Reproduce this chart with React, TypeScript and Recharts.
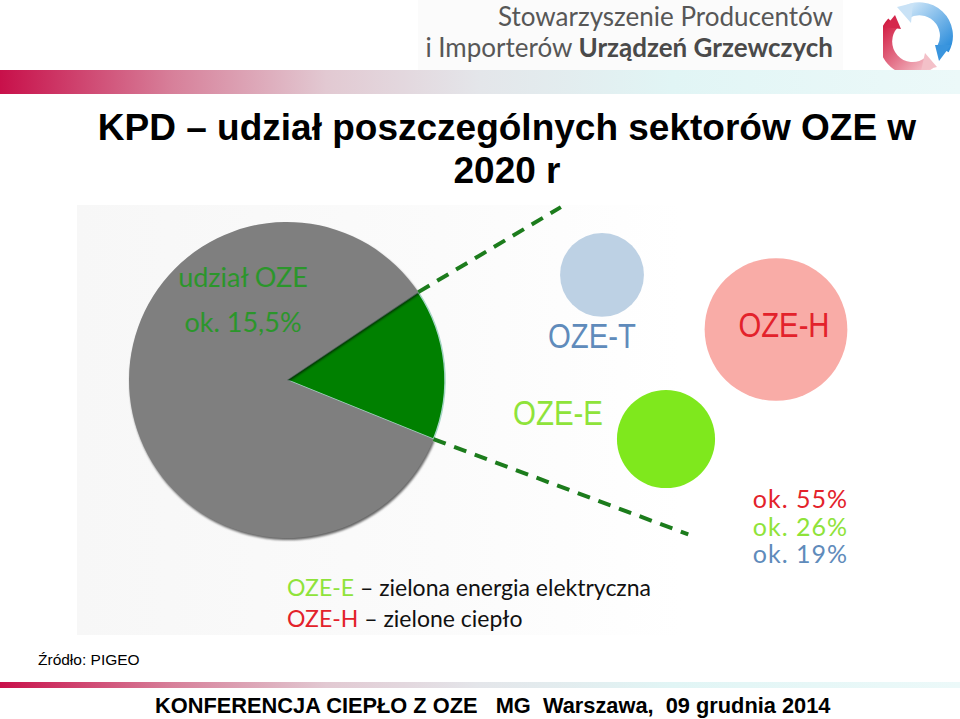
import { Cell, Pie, PieChart, Scatter, ScatterChart, XAxis, YAxis, ZAxis } from "recharts";

// share of renewables (OZE) in final energy, 2020 target
const PIE_NAMES = ["OZE", "pozostałe"];
const PIE_VALUES = [15.5, 84.5];

// split of the OZE share between sectors
const SECTOR_NAMES = ["OZE-H", "OZE-E", "OZE-T"];
const SECTOR_SHARES = [55, 26, 19];
// where each bubble sits on the hidden 0..100 grid
const BUBBLE_X = [69, 41.5, 25.5];
const BUBBLE_Y = [63, 31.7, 78.6];

const LEGEND_CODES = ["OZE-E", "OZE-H"];
const LEGEND_TEXTS = ["zielona energia elektryczna", "zielone ciepło"];

const PIE_COLORS = ["#008000", "#7f7f7f"];
const SECTOR_FILL: Record<string, string> = {
  "OZE-H": "#f9aca7",
  "OZE-E": "#7fe81d",
  "OZE-T": "#bdd1e4",
};
const SECTOR_TEXT: Record<string, string> = {
  "OZE-H": "#e3222b",
  "OZE-E": "#8fe33a",
  "OZE-T": "#5f8bbb",
};
// label placement relative to bubble centre: [dx, dy(baseline), width]
const SECTOR_LABEL: Record<string, [number, number, number]> = {
  "OZE-H": [8, 7, 91],
  "OZE-E": [-108, -14, 90],
  "OZE-T": [-10, 73, 88],
};

const RAD = Math.PI / 180;
const BAR_GRADIENT =
  "linear-gradient(90deg, #c8104a 0%, #d7809a 18%, #e2c9d2 34%, #e4e6ea 50%, #e1f5f5 70%, #ecf9f9 100%)";
const GOTHIC = "Lato, 'Open Sans', sans-serif";

const pieData = PIE_NAMES.map((name, i) => ({ name, value: PIE_VALUES[i] }));
const bubbleData = SECTOR_NAMES.map((name, i) => ({
  name,
  share: SECTOR_SHARES[i],
  x: BUBBLE_X[i],
  y: BUBBLE_Y[i],
}));

function polar(cx: number, cy: number, r: number, deg: number) {
  return { x: cx + r * Math.cos(deg * RAD), y: cy - r * Math.sin(deg * RAD) };
}

// dashed "zoom" lines leaving the OZE slice
function SliceLinks(props: any) {
  if (props.index !== 0) return null;
  const { cx, cy, outerRadius, startAngle, endAngle } = props;
  const top = polar(cx, cy, outerRadius, endAngle);
  const bot = polar(cx, cy, outerRadius, startAngle);
  const topEnd = { x: top.x + 166 * Math.cos((endAngle - 3) * RAD), y: top.y - 166 * Math.sin((endAngle - 3) * RAD) };
  const botEnd = { x: bot.x + 272 * Math.cos((startAngle + 1.5) * RAD), y: bot.y - 272 * Math.sin((startAngle + 1.5) * RAD) };
  return (
    <g>
      <line x1={top.x} y1={top.y} x2={topEnd.x} y2={topEnd.y} stroke="#1c7c1c" strokeWidth={4} strokeDasharray="13 9" />
      <line x1={bot.x} y1={bot.y} x2={botEnd.x} y2={botEnd.y} stroke="#1c7c1c" strokeWidth={4} strokeDasharray="13 9" />
    </g>
  );
}

function Bubble(props: any) {
  const { cx, cy, size, payload } = props;
  const r = Math.sqrt(Math.max(size, 0) / Math.PI);
  const [dx, dy, w] = SECTOR_LABEL[payload.name];
  return (
    <g>
      <circle cx={cx} cy={cy} r={r} fill={SECTOR_FILL[payload.name]} />
      <text
        x={cx + dx}
        y={cy + dy}
        textAnchor="middle"
        fontSize={35}
        fontFamily="'Liberation Sans', Arial, sans-serif"
        fill={SECTOR_TEXT[payload.name]}
        textLength={w}
        lengthAdjust="spacingAndGlyphs"
      >
        {payload.name}
      </text>
    </g>
  );
}

function Logo() {
  return (
    <svg width={70} height={72} style={{ position: "absolute", left: 883, top: 1 }}>
      <defs>
        <linearGradient id="lgBlue" x1="0" y1="0" x2="1" y2="1">
          <stop offset="0%" stopColor="#cfe6f8" />
          <stop offset="100%" stopColor="#2f8fdc" />
        </linearGradient>
        <linearGradient id="lgRed" x1="0" y1="0" x2="1" y2="1">
          <stop offset="0%" stopColor="#d21f45" />
          <stop offset="100%" stopColor="#f5c3cb" />
        </linearGradient>
      </defs>
      <path d="M 22 12 A 27 27 0 0 1 60 48" fill="none" stroke="url(#lgBlue)" strokeWidth={13} />
      <polygon points="14,6 30,2 28,22" fill="#c9e2f6" />
      <polygon points="52,44 68,44 56,60" fill="#3a95de" />
      <path d="M 46 62 A 27 27 0 0 1 10 22" fill="none" stroke="url(#lgRed)" strokeWidth={13} />
      <polygon points="54,66 38,70 42,52" fill="#f3c0c8" />
      <polygon points="2,26 18,28 12,14" fill="#d5274c" />
    </svg>
  );
}

export default function App() {
  const shareText = `ok. ${String(PIE_VALUES[0]).replace(".", ",")}%`;
  return (
    <div
      style={{
        position: "absolute",
        left: 0,
        top: 0,
        width: 960,
        height: 719,
        background: "#fff",
        overflow: "hidden",
        fontFamily: "'Liberation Sans', Arial, sans-serif",
      }}
    >
      <style>{`.pie-wrap .pie-shadow { filter: drop-shadow(1.5px 2px 1px rgba(0,0,0,0.6)); }`}</style>

      {/* header */}
      <div style={{ position: "absolute", left: 418, top: 0, width: 425, height: 70, background: "#fbfbfb" }} />
      <div
        style={{
          position: "absolute",
          left: 400,
          top: 1,
          width: 433,
          textAlign: "right",
          fontFamily: "Lato, sans-serif",
          fontSize: 26,
          lineHeight: "31px",
          color: "#575757",
          whiteSpace: "nowrap",
        }}
      >
        <div>Stowarzyszenie Producentów</div>
        <div>
          i Importerów <b style={{ color: "#4a4a4a" }}>Urządzeń Grzewczych</b>
        </div>
      </div>
      <Logo />
      <div style={{ position: "absolute", left: 0, top: 70, width: 960, height: 24, background: BAR_GRADIENT }} />

      {/* title */}
      <div
        style={{
          position: "absolute",
          left: 40,
          top: 106,
          width: 934,
          textAlign: "center",
          fontWeight: "bold",
          fontSize: 37,
          lineHeight: "43px",
          color: "#000",
        }}
      >
        KPD – udział poszczególnych sektorów OZE w
        <br />
        2020 r
      </div>

      {/* picture background */}
      <div
        style={{
          position: "absolute",
          left: 77,
          top: 205,
          width: 605,
          height: 430,
          background: "linear-gradient(90deg, #f7f7f7 0%, #fbfbfb 60%, #ffffff 100%)",
        }}
      />

      <div className="pie-wrap" style={{ position: "absolute", left: 0, top: 0 }}>
        <PieChart width={960} height={719} margin={{ top: 0, right: 0, bottom: 0, left: 0 }}>
          <Pie
            data={pieData}
            dataKey="value"
            nameKey="name"
            cx={287}
            cy={380}
            outerRadius={158}
            startAngle={-22}
            endAngle={338}
            label={SliceLinks}
            labelLine={false}
            isAnimationActive={false}
          >
            {pieData.map((d, i) => (
              <Cell
                key={d.name}
                className={i === 1 ? "pie-shadow" : undefined}
                fill={PIE_COLORS[i]}
                stroke={i === 0 ? "#a6d6c6" : "none"}
                strokeWidth={i === 0 ? 1.5 : 0}
              />
            ))}
          </Pie>
        </PieChart>
      </div>

      <div
        style={{
          position: "absolute",
          left: 143,
          top: 254,
          width: 200,
          textAlign: "center",
          fontFamily: GOTHIC,
          fontSize: 27,
          lineHeight: "45px",
          color: "#2b962b",
        }}
      >
        udział OZE
        <br />
        {shareText}
      </div>

      <div style={{ position: "absolute", left: 500, top: 200 }}>
        <ScatterChart width={400} height={350} margin={{ top: 0, right: 0, bottom: 0, left: 0 }}>
          <XAxis type="number" dataKey="x" domain={[0, 100]} hide />
          <YAxis type="number" dataKey="y" domain={[0, 100]} hide />
          <ZAxis type="number" dataKey="share" domain={[0, 55]} range={[0, 16000]} />
          <Scatter data={bubbleData} shape={Bubble} isAnimationActive={false} />
        </ScatterChart>
      </div>

      <div
        style={{
          position: "absolute",
          left: 690,
          top: 485,
          width: 158,
          textAlign: "right",
          fontFamily: GOTHIC,
          fontSize: 25,
          letterSpacing: 1,
          lineHeight: "27.5px",
        }}
      >
        {SECTOR_NAMES.map((n, i) => (
          <div key={n} style={{ color: SECTOR_TEXT[n] }}>
            ok. {SECTOR_SHARES[i]}%
          </div>
        ))}
      </div>

      <div
        style={{
          position: "absolute",
          left: 287,
          top: 572,
          fontFamily: GOTHIC,
          fontSize: 23,
          lineHeight: "31px",
          color: "#111",
          whiteSpace: "nowrap",
        }}
      >
        {LEGEND_CODES.map((c, i) => (
          <div key={c}>
            <span style={{ color: SECTOR_TEXT[c] }}>{c}</span> – {LEGEND_TEXTS[i]}
          </div>
        ))}
      </div>

      {/* footer */}
      <div style={{ position: "absolute", left: 38, top: 651, fontSize: 15.5, color: "#000" }}>Źródło: PIGEO</div>
      <div style={{ position: "absolute", left: 0, top: 682, width: 960, height: 6, background: BAR_GRADIENT }} />
      <div
        style={{
          position: "absolute",
          left: 155,
          top: 693,
          fontSize: 21.8,
          fontWeight: "bold",
          whiteSpace: "pre",
          color: "#000",
        }}
      >
        KONFERENCJA CIEPŁO Z OZE   MG  Warszawa,  09 grudnia 2014
      </div>
    </div>
  );
}
